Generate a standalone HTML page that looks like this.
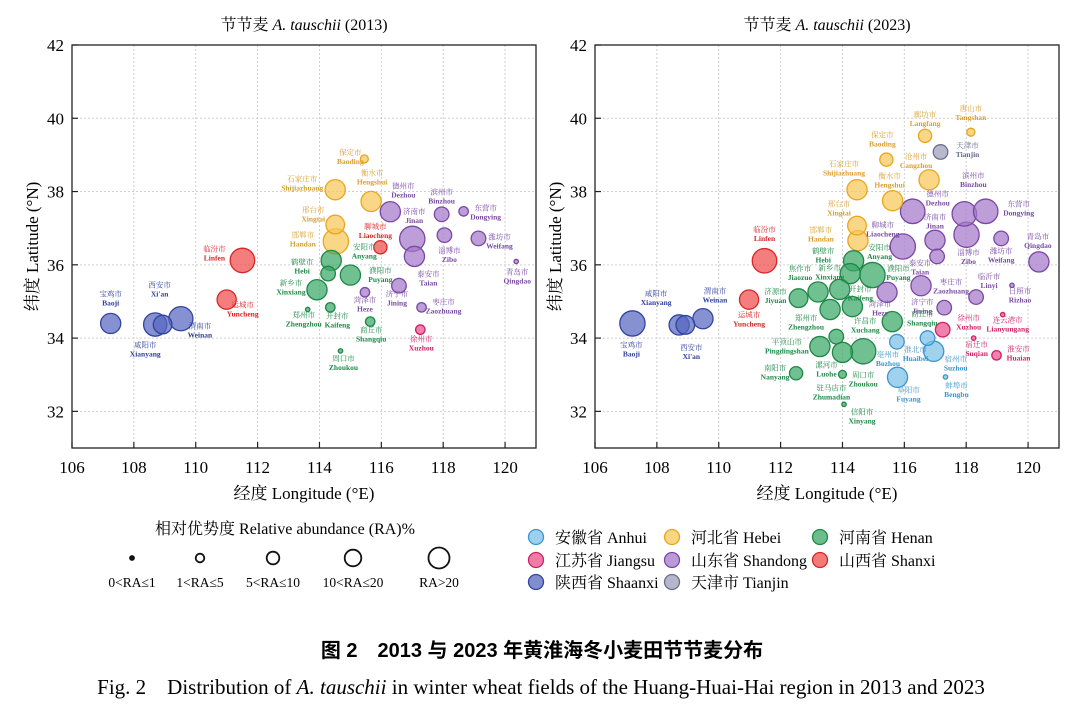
<!DOCTYPE html>
<html><head><meta charset="utf-8">
<style>
html,body{margin:0;padding:0;background:#fff;}
svg{display:block;font-family:"Liberation Serif","Noto Serif CJK SC",serif;}
</style></head>
<body>
<svg id="fig" width="1080" height="719" viewBox="0 0 1080 719" xmlns="http://www.w3.org/2000/svg">
<g id="p13"></g>
<g id="p23"></g>
<g id="legend"></g>
<text x="542" y="657" text-anchor="middle" font-size="20" font-weight="bold" font-family="'Liberation Sans','Noto Sans CJK SC',sans-serif">图 2　2013 与 2023 年黄淮海冬小麦田节节麦分布</text>
<text x="541" y="694" text-anchor="middle" font-size="21">Fig. 2&#160;&#160;&#160;&#160;Distribution of <tspan font-style="italic">A. tauschii</tspan> in winter wheat fields of the Huang-Huai-Hai region in 2013 and 2023</text>
</svg>
<script>
const xTicks=[106,108,110,112,114,116,118,120];
const yTicks=[32,34,36,38,40,42];
const provinces=["A","J","S","H","D","T","N","X"];
const provinceLabels=["安徽省 Anhui","江苏省 Jiangsu","陕西省 Shaanxi","河北省 Hebei","山东省 Shandong","天津市 Tianjin","河南省 Henan","山西省 Shanxi"];
const raClasses=["0<RA≤1","1<RA≤5","5<RA≤10","10<RA≤20","RA>20"];
const raClassValues=[1,3.3,8,14,21];

const cn13=["宝鸡市","咸阳市","西安市","渭南市","临汾市","运城市","保定市","石家庄市","衡水市","邢台市","邯郸市","安阳市","鹤壁市","濮阳市","新乡市","郑州市","开封市","商丘市","周口市","聊城市","德州市","济南市","泰安市","滨州市","东营市","淄博市","潍坊市","青岛市","济宁市","菏泽市","枣庄市","徐州市"];
const en13=["Baoji","Xianyang","Xi'an","Weinan","Linfen","Yuncheng","Baoding","Shijiazhuang","Hengshui","Xingtai","Handan","Anyang","Hebi","Puyang","Xinxiang","Zhengzhou","Kaifeng","Shangqiu","Zhoukou","Liaocheng","Dezhou","Jinan","Taian","Binzhou","Dongying","Zibo","Weifang","Qingdao","Jining","Heze","Zaozhuang","Xuzhou"];
const lon13=[107.25,108.69,108.93,109.52,111.51,111.00,115.45,114.51,115.67,114.51,114.53,114.38,114.28,115.00,113.92,113.62,114.35,115.64,114.68,115.97,116.29,117.00,117.07,117.95,118.66,118.04,119.14,120.36,116.57,115.47,117.30,117.26];
const lat13=[34.40,34.37,34.37,34.53,36.12,35.05,38.89,38.05,37.73,37.10,36.64,36.12,35.76,35.72,35.32,34.78,34.84,34.45,33.65,36.48,37.45,36.71,36.23,37.38,37.46,36.81,36.72,36.09,35.43,35.25,34.84,34.23];
const ra13=[21,28,18,30,31,19,3.3,21,21,18,33,21,11,21,21,1,4.6,4.6,1,9,21,33,21,11,4.6,11,11,1,11,4.6,4.6,4.6];
const prov13=["S","S","S","S","X","X","H","H","H","H","H","N","N","N","N","N","N","N","N","X","D","D","D","D","D","D","D","D","D","D","D","J"];
const lab13=[[0,-27],[-10,23],[-3,-37],[19,10],[-28,-9],[16,8],[-14,-4],[-33,-8],[1,-26],[-22,-12],[-33,-4],[33,-11],[-26,-9],[30,-2],[-26,-4],[-4,8],[7,11],[1,11],[3,10],[-5,-18],[13,-23],[2,-25],[14,20],[0,-20],[22,-1],[5,18],[21,1],[1,13],[-2,11],[0,10],[22,-3],[1,12]];

const cn23=["宝鸡市","咸阳市","西安市","渭南市","临汾市","运城市","唐山市","廊坊市","天津市","保定市","沧州市","石家庄市","衡水市","邢台市","邯郸市","德州市","滨州市","东营市","济南市","淄博市","聊城市","泰安市","潍坊市","青岛市","枣庄市","菏泽市","济宁市","临沂市","日照市","徐州市","连云港市","宿迁市","淮安市","安阳市","鹤壁市","濮阳市","焦作市","新乡市","济源市","开封市","郑州市","商丘市","许昌市","平顶山市","漯河市","周口市","南阳市","驻马店市","信阳市","亳州市","淮北市","宿州市","阜阳市","蚌埠市"];
const en23=["Baoji","Xianyang","Xi'an","Weinan","Linfen","Yuncheng","Tangshan","Langfang","Tianjin","Baoding","Cangzhou","Shijiazhuang","Hengshui","Xingtai","Handan","Dezhou","Binzhou","Dongying","Jinan","Zibo","Liaocheng","Taian","Weifang","Qingdao","Zaozhuang","Heze","Jining","Linyi","Rizhao","Xuzhou","Lianyungang","Suqian","Huaian","Anyang","Hebi","Puyang","Jiaozuo","Xinxiang","Jiyuan","Kaifeng","Zhengzhou","Shangqiu","Xuchang","Pingdingshan","Luohe","Zhoukou","Nanyang","Zhumadian","Xinyang","Bozhou","Huaibei","Suzhou","Fuyang","Bengbu"];
const lon23=[107.21,108.72,108.92,109.49,111.48,110.98,118.15,116.67,117.17,115.42,116.80,114.47,115.62,114.47,114.50,116.27,117.94,118.63,116.99,118.01,115.95,117.06,119.13,120.35,116.54,115.44,117.29,118.32,119.48,117.24,119.18,118.24,118.98,114.36,114.25,114.97,113.21,113.91,112.58,114.32,113.60,115.61,113.80,113.27,114.00,114.67,112.50,114.00,114.05,115.76,116.75,116.95,115.78,117.33];
const lat23=[34.40,34.36,34.36,34.53,36.11,35.05,39.62,39.52,39.08,38.87,38.32,38.05,37.75,37.07,36.66,37.46,37.39,37.46,36.67,36.82,36.50,36.23,36.72,36.08,35.43,35.25,34.83,35.12,35.44,34.23,34.64,34.00,33.53,36.11,35.76,35.72,35.26,35.33,35.09,34.86,34.78,34.45,34.04,33.77,33.61,33.64,33.04,33.01,32.19,33.90,34.00,33.64,32.93,32.94];
const ra23=[33,21,18,21,31,19,3.3,9,11,9,21,21,21,18,21,31,31,31,21,33,33,11,11,21,21,21,11,11,1,11,1,1,4.6,21,21,33,21,21,18,21,21,21,11,21,21,33,9,3.3,1,11,11,21,21,1];
const prov23=["S","S","S","S","X","X","H","H","T","H","H","H","H","H","H","D","D","D","D","D","D","D","D","D","D","D","D","D","D","J","J","J","J","N","N","N","N","N","N","N","N","N","N","N","N","N","N","N","N","A","A","A","A","A"];
const lab23=[[-1,24],[-23,-29],[6,25],[12,-25],[0,-29],[0,18],[0,-21],[0,-19],[27,-4],[-4,-22],[-13,-21],[-13,-23],[-3,-22],[-18,-19],[-37,-8],[25,-15],[9,-36],[33,-5],[0,-21],[2,20],[-20,-19],[-17,9],[0,15],[-1,-23],[30,-1],[-7,14],[-22,-3],[13,-18],[8,8],[26,-9],[5,8],[3,9],[22,-4],[26,-11],[-27,-20],[26,-4],[-18,-21],[-10,-19],[-23,-4],[8,-15],[-24,11],[30,-5],[29,-13],[-33,-2],[-16,15],[0,26],[-21,-3],[-11,16],[18,10],[-9,15],[-12,14],[22,10],[11,15],[11,11]];

const FILL={A:"#7cc0e8",J:"#ea4f8c",S:"#5667bf",H:"#f7c858",D:"#a478c9",T:"#9c9cba",N:"#3aa866",X:"#f04c4c"};
const STROKE={A:"#3a95cf",J:"#cf1f68",S:"#3144a0",H:"#e8a61e",D:"#7b47a6",T:"#6d6d90",N:"#1d8846",X:"#d82626"};
const TXT={A:"#3a95cf",J:"#d01f66",S:"#2f3f9a",H:"#d9a030",D:"#7a4aa3",T:"#66668a",N:"#1f8a48",X:"#d82626"};
const NS="http://www.w3.org/2000/svg";
function mk(tag,attrs,parent){const e=document.createElementNS(NS,tag);for(const k in attrs)e.setAttribute(k,attrs[k]);if(parent)parent.appendChild(e);return e;}
function rScale(ra){return 2.2*Math.sqrt(ra);}

function panel(g,x0,title,cn,en,lon,lat,ra,prov,lab){
  const L=x0,R=x0+464,T=45,B=448;
  const xs=v=>L+(v-106)*(R-L)/15;
  const ys=v=>T+(42-v)*(B-T)/11;
  xTicks.forEach(t=>{if(t===106)return;const l=mk("line",{x1:xs(t),x2:xs(t),y1:T,y2:B,stroke:"#cfcfcf","stroke-dasharray":"2,2","stroke-width":1},g);
    
    });
  yTicks.forEach(t=>{if(t===42)return;const l=mk("line",{x1:L,x2:R,y1:ys(t),y2:ys(t),stroke:"#cfcfcf","stroke-dasharray":"2,2","stroke-width":1},g);
    
    });
  const f=mk("rect",{x:L,y:T,width:R-L,height:B-T,fill:"none",stroke:"#222","stroke-width":1.3},g);
  
  
  xTicks.forEach(t=>{mk("line",{x1:xs(t),x2:xs(t),y1:B,y2:B-6,stroke:"#222","stroke-width":1.2},g);
    const tx=mk("text",{x:xs(t),y:B+25,"text-anchor":"middle","font-size":17},g);tx.textContent=t;
    
    });
  yTicks.forEach(t=>{mk("line",{x1:L,x2:L+6,y1:ys(t),y2:ys(t),stroke:"#222","stroke-width":1.2},g);
    const tx=mk("text",{x:L-8,y:ys(t)+6,"text-anchor":"end","font-size":17},g);tx.textContent=t;
    
    });
  const xt=mk("text",{x:(L+R)/2,y:499,"text-anchor":"middle","font-size":17},g);xt.textContent="经度 Longitude (°E)";
  
  
  const yt=mk("text",{x:0,y:0,"text-anchor":"middle","font-size":17,transform:`translate(${L-34},${(T+B)/2}) rotate(-90)`},g);yt.textContent="纬度 Latitude (°N)";
  
  
  const tt=mk("text",{x:(L+R)/2,y:30,"text-anchor":"middle","font-size":16},g);
  tt.innerHTML=title;
  
  
  const idx=cn.map((_,i)=>i).sort((a,b)=>ra[b]-ra[a]);
  idx.forEach(i=>{const p=prov[i];
    const c=mk("circle",{cx:xs(lon[i]),cy:ys(lat[i]),r:rScale(ra[i]),fill:FILL[p],"fill-opacity":0.72,stroke:STROKE[p],"stroke-width":1.3},g);
    
    });
  cn.forEach((n,i)=>{const p=prov[i];const x=xs(lon[i])+lab[i][0],y=ys(lat[i])+lab[i][1];
    const t1=mk("text",{x:x,y:y,"text-anchor":"middle","font-size":7.5,fill:TXT[p]},g);t1.textContent=n;
    
    
    const t2=mk("text",{x:x,y:y+9,"text-anchor":"middle","font-size":7.5,"font-weight":"bold",fill:TXT[p]},g);t2.textContent=en[i];
    
    });
}
panel(document.getElementById("p13"),72,'节节麦 <tspan font-style="italic">A. tauschii</tspan> (2013)',cn13,en13,lon13,lat13,ra13,prov13,lab13);
panel(document.getElementById("p23"),595,'节节麦 <tspan font-style="italic">A. tauschii</tspan> (2023)',cn23,en23,lon23,lat23,ra23,prov23,lab23);

const lg=document.getElementById("legend");
const lt=mk("text",{x:285,y:534,"text-anchor":"middle","font-size":16},lg);lt.textContent="相对优势度 Relative abundance (RA)%";


const sx=[132,200,273,353,439];
raClasses.forEach((c,i)=>{
  const r=[2,4.3,6.3,8.3,10.5][i];
  const ci=mk("circle",{cx:sx[i],cy:558,r:r,fill:i===0?"#111":"none",stroke:"#111","stroke-width":1.8},lg);
  
  
  const t=mk("text",{x:sx[i],y:587,"text-anchor":"middle","font-size":13.5},lg);t.textContent=c;
  
  
});
const colX=[536,672,820],rowY=[537,560,582];
const order=[["A",0,0],["H",1,0],["N",2,0],["J",0,1],["D",1,1],["X",2,1],["S",0,2],["T",1,2]];
order.forEach(o=>{const p=o[0],k=provinces.indexOf(p);const x=colX[o[1]],y=rowY[o[2]];
  const ci=mk("circle",{cx:x,cy:y,r:7.5,fill:FILL[p],"fill-opacity":0.75,stroke:STROKE[p],"stroke-width":1.3},lg);
  
  
  const t=mk("text",{x:x+19,y:y+6,"font-size":16},lg);t.textContent=provinceLabels[k];
  
  
});
</script>
</body></html>
